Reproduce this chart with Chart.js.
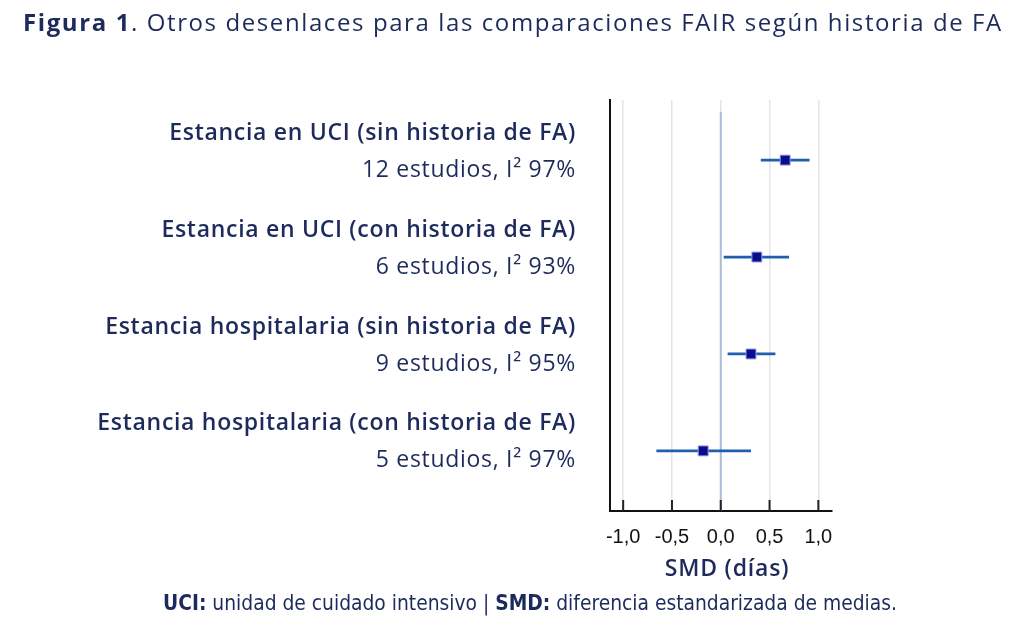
<!DOCTYPE html>
<html>
<head>
<meta charset="utf-8">
<script src="https://cdn.jsdelivr.net/npm/chart.js@4.4.1/dist/chart.umd.min.js"></script>
<style>
  html, body { margin: 0; padding: 0; background: #fff; }
  .wrap { position: relative; width: 1024px; height: 627px; overflow: hidden; }
  .title { position: absolute; left: 23px; top: 5px; font-family: "Open Sans", sans-serif; font-size: 24px; color: #1c2b5c; white-space: nowrap; letter-spacing: 1.6px; }
  .title b { font-weight: 700; }
  .note { position: absolute; left: 0; width: 1060px; top: 591px; text-align: center; font-family: "DejaVu Sans Condensed", sans-serif; font-size: 20.8px; color: #1c2b5c; white-space: nowrap; }
  .note b { font-weight: 700; }
  canvas { position: absolute; left: 0; top: 0; }
</style>
</head>
<body>
<div class="wrap">
  <canvas id="chart" width="1024" height="627"></canvas>
  <div class="title"><b>Figura 1</b>. Otros desenlaces para las comparaciones FAIR según historia de FA</div>
  <div class="note"><b>UCI:</b> unidad de cuidado intensivo | <b>SMD:</b> diferencia estandarizada de medias.</div>
</div>
<script>
// datos
const outcomes = [
    'Estancia en UCI (sin historia de FA)',
    'Estancia en UCI (con historia de FA)',
    'Estancia hospitalaria (sin historia de FA)',
    'Estancia hospitalaria (con historia de FA)'
];
const studyInfo = [
    '12 estudios, I² 97%',
    '6 estudios, I² 93%',
    '9 estudios, I² 95%',
    '5 estudios, I² 97%'
];
const smd = [0.66, 0.37, 0.31, -0.18];
const ciLow = [0.41, 0.03, 0.07, -0.66];
const ciHigh = [0.91, 0.70, 0.56, 0.31];
const xTicks = [-1.0, -0.5, 0.0, 0.5, 1.0];

const NAVY = '#1c2b5c';
const FONT = '"Open Sans", sans-serif';

// líneas de intervalo de confianza
const ciSets = outcomes.map((o, i) => ({
    type: 'line',
    label: o,
    data: [{ x: ciLow[i], y: i + 1 }, { x: ciHigh[i], y: i + 1 }],
    borderColor: '#1f5fae',
    borderWidth: 2.8,
    pointRadius: 0,
    order: 2
}));

const labelsPlugin = {
    id: 'rowLabels',
    afterDraw(chart) {
        const ctx = chart.ctx;
        const ys = chart.scales.y;
        const xs = chart.scales.x;
        const area = chart.chartArea;
        ctx.save();
        ctx.textAlign = 'right';
        ctx.textBaseline = 'middle';
        ctx.fillStyle = NAVY;
        ctx.letterSpacing = '0.7px';
        outcomes.forEach((o, i) => {
            const y = ys.getPixelForValue(i + 1);
            ctx.font = '600 23px ' + FONT;
            ctx.fillText(o, 576, y - 27);
            ctx.font = '400 23px ' + FONT;
            ctx.fillText(studyInfo[i], 576, y + 10);
        });
        // marcas de eje hacia dentro
        ctx.strokeStyle = '#222';
        ctx.lineWidth = 2;
        xTicks.forEach(v => {
            const x = xs.getPixelForValue(v);
            ctx.beginPath();
            ctx.moveTo(x, area.bottom - 11);
            ctx.lineTo(x, area.bottom);
            ctx.stroke();
        });
        // título del eje
        ctx.textAlign = 'center';
        ctx.letterSpacing = '0.8px';
        ctx.font = '600 23px ' + FONT;
        ctx.fillText('SMD (días)', 727, 569);
        ctx.restore();
    }
};

new Chart(document.getElementById('chart'), {
    type: 'scatter',
    data: {
        datasets: [
            {
                type: 'line',
                label: 'nulo',
                data: [{ x: 0, y: 0.5 }, { x: 0, y: 4.62 }],
                borderColor: '#a9bedb',
                borderWidth: 2,
                pointRadius: 0,
                order: 3
            },
            ...ciSets,
            {
                label: 'SMD',
                data: smd.map((v, i) => ({ x: v, y: i + 1 })),
                pointStyle: 'rect',
                pointRadius: 7,
                backgroundColor: '#0b0b8f',
                borderColor: '#8f9ad6',
                borderWidth: 1,
                order: 1
            }
        ]
    },
    options: {
        responsive: false,
        animation: false,
        layout: { padding: { left: 600, right: 192, top: 100, bottom: 0 } },
        plugins: { legend: { display: false }, tooltip: { enabled: false } },
        scales: {
            x: {
                type: 'linear',
                min: -1.135,
                max: 1.14,
                afterBuildTicks: s => { s.ticks = xTicks.map(v => ({ value: v })); },
                afterFit: s => { s.height = 116; },
                grid: { color: '#e4e4e4', lineWidth: 1.5, drawTicks: false },
                border: { color: '#111', width: 2 },
                ticks: {
                    padding: 14,
                    color: '#111',
                    font: { family: '"Liberation Sans", Arial, sans-serif', size: 20 },
                    callback: v => v.toFixed(1).replace('.', ',')
                }
            },
            y: {
                type: 'linear',
                reverse: true,
                min: 0.38,
                max: 4.62,
                afterFit: s => { s.width = 10; },
                grid: { display: false },
                border: { color: '#111', width: 2 },
                ticks: { display: false }
            }
        }
    },
    plugins: [labelsPlugin]
});
</script>
</body>
</html>
